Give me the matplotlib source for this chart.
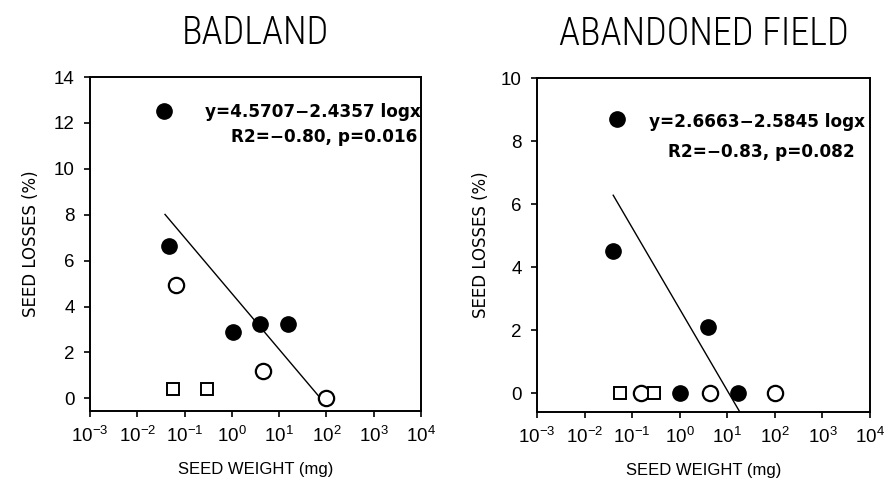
import matplotlib
matplotlib.use("Agg")
import matplotlib.pyplot as plt
import numpy as np

plt.rcParams['font.family'] = ['Liberation Sans', 'DejaVu Sans']
plt.rcParams['mathtext.fontset'] = 'custom'
plt.rcParams['mathtext.rm'] = 'Liberation Sans'

# Badland
bad_filled_x = [0.037, 0.047, 1.05, 3.9, 15.4]
bad_filled_y = [12.5, 6.65, 2.9, 3.25, 3.25]
bad_open_x = [0.066, 4.55, 100]
bad_open_y = [4.95, 1.2, 0.0]
bad_square_x = [0.057, 0.30]
bad_square_y = [0.4, 0.4]
bad_fit = (4.5707, -2.4357)
bad_fit_range = [0.0386, 100]
bad_text = ["y=4.5707\u22122.4357 logx", "R2=\u22120.80, p=0.016"]

# Abandoned field
ab_filled_x = [0.048, 0.040, 3.9, 1.0, 16.6]
ab_filled_y = [8.7, 4.5, 2.1, 0.0, 0.0]
ab_open_x = [0.15, 4.3, 100]
ab_open_y = [0.0, 0.0, 0.0]
ab_square_x = [0.055, 0.29]
ab_square_y = [0.0, 0.0]
ab_fit = (2.6663, -2.5845)
ab_fit_range = [0.04, 30]
ab_text = ["y=2.6663\u22122.5845 logx", "R2=\u22120.83, p=0.082"]

fig = plt.figure(figsize=(8.88, 4.86), dpi=100)
ax1 = fig.add_axes([90 / 888, 1 - 411 / 486, 331 / 888, 334 / 486])
ax2 = fig.add_axes([537 / 888, 1 - 412 / 486, 333 / 888, 334 / 486])


def draw(ax, fx, fy, ox, oy, sx, sy, fit, frange, texts, ylim, yticks, title, tpos, ylab_x):
    xs = np.logspace(np.log10(frange[0]), np.log10(frange[1]), 50)
    ax.plot(xs, fit[0] + fit[1] * np.log10(xs), color='black', lw=1.0, zorder=2)
    ax.plot(fx, fy, 'o', ms=11, mfc='black', mec='black', ls='none', zorder=3)
    ax.plot(ox, oy, 'o', ms=11, mfc='white', mec='black', mew=1.6, ls='none', zorder=3)
    ax.plot(sx, sy, 's', ms=8, mfc='white', mec='black', mew=1.4, ls='none', zorder=3)
    ax.set_xscale('log')
    ax.set_xlim(1e-3, 1e4)
    ax.set_xticks([10.0 ** k for k in range(-3, 5)])
    ax.minorticks_off()
    ax.set_ylim(*ylim)
    ax.set_yticks(yticks)
    ax.tick_params(direction='out', length=4, width=1.2, labelsize=13.5, pad=7)
    for s in ax.spines.values():
        s.set_linewidth(1.4)
    ax.set_ylabel('SEED LOSSES (%)', fontsize=12, family=['DejaVu Sans'])
    ax.yaxis.set_label_coords(ylab_x, 0.5)
    ax.set_xlabel('SEED WEIGHT (mg)', fontsize=12, labelpad=11)
    ax.text(tpos[0], tpos[1], texts[0], transform=ax.transAxes, ha='right', va='center',
            fontsize=12.2, fontweight='bold', family=['DejaVu Sans'])
    ax.text(tpos[2], tpos[3], texts[1], transform=ax.transAxes, ha='right', va='center',
            fontsize=12.2, fontweight='bold', family=['DejaVu Sans'])
    ax.set_title(title, fontsize=27.5, pad=24, family=['Roboto Condensed', 'Liberation Sans Narrow', 'DejaVu Sans'],
                 fontweight='light')


draw(ax1, bad_filled_x, bad_filled_y, bad_open_x, bad_open_y, bad_square_x, bad_square_y,
     bad_fit, bad_fit_range, bad_text, (-0.55, 14), range(0, 15, 2), 'BADLAND',
     (0.998, 0.895, 0.988, 0.82), -0.151)
draw(ax2, ab_filled_x, ab_filled_y, ab_open_x, ab_open_y, ab_square_x, ab_square_y,
     ab_fit, ab_fit_range, ab_text, (-0.6, 10), range(0, 11, 2), 'ABANDONED FIELD',
     (0.985, 0.868, 0.955, 0.778), -0.141)

fig.savefig('out.png', dpi=100)
